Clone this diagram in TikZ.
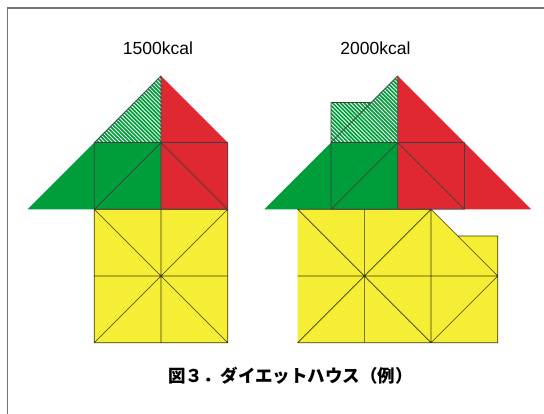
\documentclass[tikz,border=0pt]{standalone}
\usepackage{fontspec}
\setmainfont{Liberation Sans}
\newfontfamily\cjk{Noto Sans CJK JP}
\usetikzlibrary{patterns.meta}

\definecolor{kgreen}{RGB}{0,158,58}
\definecolor{kred}{RGB}{224,40,50}
\definecolor{kyellow}{RGB}{245,238,53}

\begin{document}
\begin{tikzpicture}[x=1pt,y=-1pt,
  grn/.style={fill=kgreen},
  rd/.style={fill=kred},
  yel/.style={fill=kyellow},
  hatched/.style={fill=kgreen,postaction={pattern={Lines[angle=-45,distance=2.8pt,line width=0.8pt]},pattern color=white}},
  seam/.style={draw=black!75,line width=0.7pt,line join=round},
  yseam/.style={draw=black!60!kyellow!60!black,line width=0.7pt,line join=round},
  label/.style={font=\fontsize{17.5}{20}\selectfont,inner sep=0pt}]
      \useasboundingbox (0,0) rectangle (544,414);
      \draw[black!55,line width=1.4pt] (7.5,414) -- (7.5,8) -- (544,8);

      \coordinate (h1) at (161,276);
      \coordinate (h2) at (397.7,276);

      \node[label,anchor=base] (kcal1) at (158,55) {1500kcal};
      \node[label,anchor=base] (kcal2) at (375.5,55) {2000kcal};

      % 1500kcal house
      \begin{scope}[shift={(h1)},x=66.7pt,y=66.7pt]
	\fill[yel] (-1,-1) rectangle (1,1);
	\fill[grn] (-2,1) -- (-1,1) -- (-1,2) -- cycle;
	\fill[grn] (-1,1) rectangle (0,2);
	\fill[rd] (0,1) rectangle (1,2);
	\fill[rd] (0,2) -- (1,2) -- (0,3) -- cycle;
	\fill[hatched] (-1,2) -- (0,2) -- (0,3) -- cycle;

	\path[yseam] (-1,-1) rectangle (1,1)
	  (-1,0) -- (1,0) (0,-1) -- (0,1)
	  (-1,-1) -- (1,1) (-1,1) -- (1,-1);
	\path[seam] (-1,1) rectangle (1,2)
	  (0,1) -- (0,3) -- (-1,2)
	  (-1,1) -- (0,2) -- (1,1);
      \end{scope}

      % 2000kcal house
      \begin{scope}[shift={(h2)},x=66.7pt,y=66.7pt]
	\fill[yel] (-1.5,-1) -- (1.5,-1) -- (1.5,0.6) -- (0.9,0.6) -- (0.5,1) -- (-1.5,1) -- cycle;
	\fill[grn] (-2,1) -- (-1,1) -- (-1,2) -- cycle;
	\fill[grn] (-1,1) rectangle (0,2);
	\fill[rd] (0,1) rectangle (1,2);
	\fill[rd] (0,2) -- (1,2) -- (0,3) -- cycle;
	\fill[rd] (1,1) -- (2,1) -- (1,2) -- cycle;
	\fill[hatched] (-1,2) -- (0,2) -- (0,3) -- cycle;
	\fill[hatched] (-1,2) -- (-1,2.6) -- (-0.4,2.6) -- cycle;

	\path[yseam] (-1.5,-1) -- (1.5,-1) -- (1.5,0.6) -- (0.9,0.6)
	  (0.5,1) -- (-1.5,1) -- cycle
	  (-1.5,0) -- (1.5,0) (-0.5,-1) -- (-0.5,1) (0.5,-1) -- (0.5,1)
	  (-1.5,1) -- (0.5,-1) (-1.5,-1) -- (0.5,1)
	  (0.5,1) -- (1.5,0) -- (0.5,-1);
	\path[seam] (-1,1) rectangle (1,2)
	  (0,1) -- (0,3) -- (-1,2)
	  (-1,1) -- (0,2) -- (1,1)
	  (-1,2) -- (-1,2.6) -- (-0.4,2.6);
      \end{scope}

      \node[label,font=\cjk\bfseries\fontsize{17.5}{20}\selectfont] (caption) at (290.5,376) {図３．ダイエットハウス（例）};
\end{tikzpicture}
\end{document}
